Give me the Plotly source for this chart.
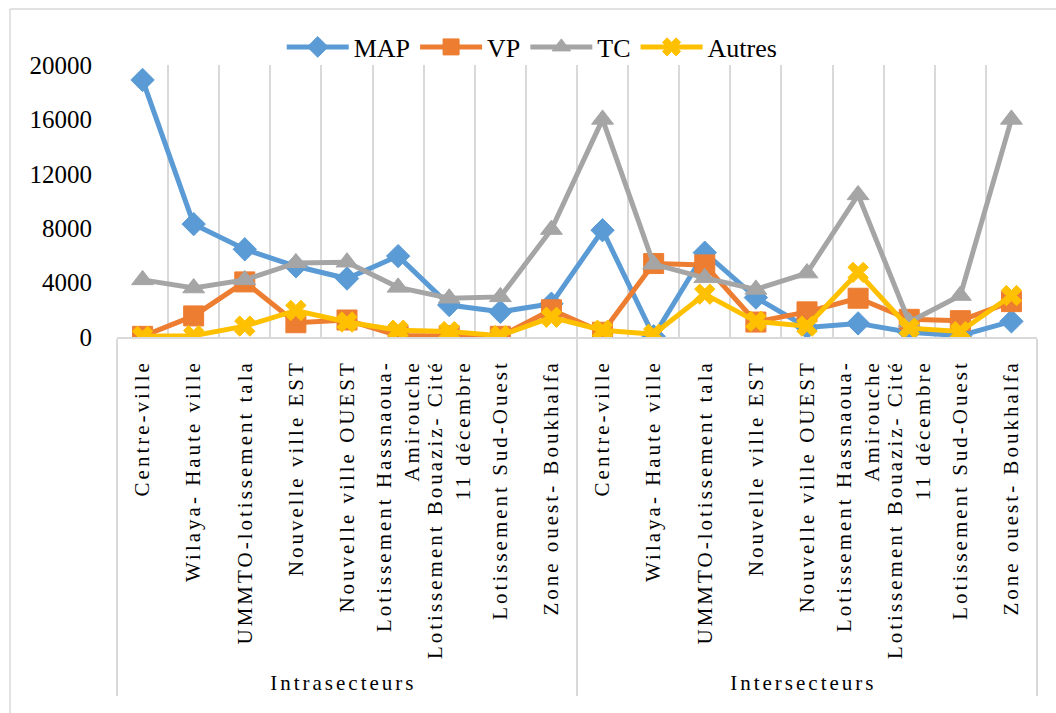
import plotly.graph_objects as go

groups = ["Intrasecteurs", "Intersecteurs"]
zones = [
    "Centre-ville",
    "Wilaya- Haute ville",
    "UMMTO-lotissement tala",
    "Nouvelle ville EST",
    "Nouvelle ville OUEST",
    "Lotissement Hassnaoua-<br>Amirouche",
    "Lotissement Bouaziz- Cité<br>11 décembre",
    "Lotissement Sud-Ouest",
    "Zone ouest- Boukhalfa",
]

map_values = [18900, 8300, 6450, 5200, 4300, 5950, 2350, 1850, 2450,
              7850, 50, 6200, 2900, 700, 1000, 350, 100, 1150]
vp_values = [50, 1550, 4050, 1050, 1250, 100, 100, 50, 2000,
             350, 5400, 5300, 1100, 1850, 2850, 1300, 1200, 2600]
tc_values = [4200, 3600, 4200, 5450, 5500, 3650, 2850, 2950, 7900,
             16000, 5350, 4350, 3500, 4700, 10450, 1100, 3050, 16000]
autres_values = [50, 100, 800, 1950, 1100, 500, 400, 100, 1450,
                 500, 200, 3150, 1150, 800, 4750, 650, 400, 3050]

y_ticks = [0, 4000, 8000, 12000, 16000, 20000]

x_outer = [g for g in groups for _ in zones]
x_inner = [z for _ in groups for z in zones]
x = [x_outer, x_inner]
n_cat = len(x_inner)

series = [
    ("MAP", map_values, "#5B9BD5", "diamond", 18),
    ("VP", vp_values, "#ED7D31", "square", 20),
    ("TC", tc_values, "#A5A5A5", "triangle-up", 19),
    ("Autres", autres_values, "#FFC000", "x", 18),
]

fig = go.Figure()
for name, vals, color, sym, size in series:
    fig.add_trace(go.Scatter(
        x=x, y=vals, name=name, mode="lines+markers",
        line=dict(color=color, width=5),
        marker=dict(symbol=sym, size=size, color=color,
                    line=dict(color=color, width=1)),
    ))

serif = "Liberation Serif, serif"

# plot area in pixels: left 117, right 1037, top 65, bottom 337
L, R, T, B = 117, 19, 65, 376
W, H = 1056, 713
pw, ph = W - L - R, H - T - B

def px_to_paper_x(px):
    return (px - L) / pw

def px_to_paper_y(py):
    return (H - B - py) / ph

fig.update_layout(
    template="none",
    width=W, height=H,
    margin=dict(l=L, r=R, t=T, b=B, autoexpand=False),
    paper_bgcolor="white", plot_bgcolor="white",
    showlegend=True,
    legend=dict(
        orientation="h", xref="container", yref="container",
        x=0.504, xanchor="center", y=1 - 47 / H, yanchor="middle",
        font=dict(family=serif, size=26, color="black"),
        itemwidth=62, tracegroupgap=0, bgcolor="rgba(0,0,0,0)",
    ),
    xaxis=dict(
        type="multicategory",
        automargin=False,
        range=[-0.5, n_cat - 0.5], autorange=False,
        tickangle=-90,
        tickfont=dict(family="Liberation Serif", size=21, color="black"),
        ticklabelstandoff=13,
        showgrid=True, gridcolor="#D9D9D9", gridwidth=1.5,
        tickson="boundaries", ticks="",
        showline=True, linecolor="#D9D9D9", linewidth=1.5,
        showdividers=True, dividercolor="#D9D9D9", dividerwidth=1.5,
        zeroline=False,
    ),
    yaxis=dict(
        automargin=False,
        range=[0, 20000], tickvals=y_ticks,
        tickformat="d",
        tickfont=dict(family=serif, size=25, color="black"),
        showgrid=False, zeroline=False, showline=False, ticks="",
        ticklabelstandoff=24,
    ),
    shapes=[
        dict(type="line", xref="paper", yref="paper",
             x0=px_to_paper_x(10), x1=px_to_paper_x(1060),
             y0=px_to_paper_y(9), y1=px_to_paper_y(9),
             line=dict(color="#D9D9D9", width=1.5)),
        dict(type="line", xref="paper", yref="paper",
             x0=px_to_paper_x(10), x1=px_to_paper_x(10),
             y0=px_to_paper_y(9), y1=px_to_paper_y(720),
             line=dict(color="#D9D9D9", width=1.5)),
    ],
)

# Excel-like letter spacing for the category labels, and no page margin
post = """
document.body.style.margin = '0';
var st = document.createElement('style');
st.innerHTML = 'text[style*="Times New Roman"]{letter-spacing:3px;}' +
               '.xtick2 text{translate:0 4px;}';
document.head.appendChild(st);
var gd = document.getElementById('{plot_id}');
Plotly.relayout(gd, {'xaxis.tickfont.family': 'Liberation Serif, Times New Roman'});
"""

fig.write_html("out.html", post_script=post, config={"displayModeBar": False})
